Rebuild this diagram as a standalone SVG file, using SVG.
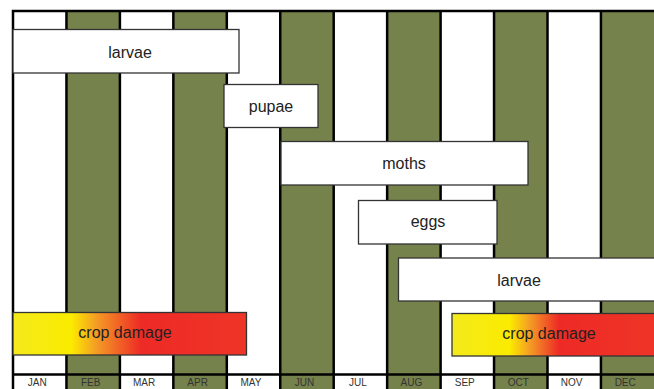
<svg xmlns="http://www.w3.org/2000/svg" width="654" height="389" viewBox="0 0 654 389">
<style>
.w{fill:#ffffff}
.g{fill:#76824C}
.sep{stroke:#000;stroke-width:2.5;fill:none}
.box{fill:#fff;stroke:#333;stroke-width:1.3}
.cd{stroke:#333;stroke-width:1.3}
.lbl{font-family:"Liberation Sans",Arial,sans-serif;font-size:16px;fill:#222;text-anchor:middle;dominant-baseline:central}
.ax{font-family:"Liberation Sans Narrow","Liberation Sans",Arial,sans-serif;font-size:10px;fill:#333;text-anchor:middle;dominant-baseline:central}
</style>
<defs>
<linearGradient id="grad1" x1="0" y1="0" x2="1" y2="0">
<stop offset="0" stop-color="#F4EA1C"/>
<stop offset="0.25" stop-color="#FBEB00"/>
<stop offset="0.36" stop-color="#F49A25"/>
<stop offset="0.55" stop-color="#EE2A26"/>
<stop offset="1" stop-color="#EE3527"/>
</linearGradient>
<linearGradient id="grad2" x1="0" y1="0" x2="1" y2="0">
<stop offset="0" stop-color="#F4EA1C"/>
<stop offset="0.28" stop-color="#FBEB00"/>
<stop offset="0.38" stop-color="#F49A25"/>
<stop offset="0.52" stop-color="#EE2A26"/>
<stop offset="1" stop-color="#EE3527"/>
</linearGradient>
</defs>
<rect x="0" y="0" width="654" height="389" fill="#fff"/>
<g id="columns">
<rect class="w" x="13" y="11" width="53.45" height="378"/>
<rect class="g" x="66.45" y="11" width="53.45" height="378"/>
<rect class="w" x="119.9" y="11" width="53.45" height="378"/>
<rect class="g" x="173.35" y="11" width="53.45" height="378"/>
<rect class="w" x="226.8" y="11" width="53.45" height="378"/>
<rect class="g" x="280.25" y="11" width="53.45" height="378"/>
<rect class="w" x="333.7" y="11" width="53.45" height="378"/>
<rect class="g" x="387.15" y="11" width="53.45" height="378"/>
<rect class="w" x="440.6" y="11" width="53.45" height="378"/>
<rect class="g" x="494.05" y="11" width="53.45" height="378"/>
<rect class="w" x="547.5" y="11" width="53.45" height="378"/>
<rect class="g" x="600.95" y="11" width="53.45" height="378"/>
<path class="sep" d="M11.75 11H654 M11.75 374.5H654 M13 10V389 M66.45 11V389 M119.9 11V389 M173.35 11V389 M226.8 11V389 M280.25 11V389 M333.7 11V389 M387.15 11V389 M440.6 11V389 M494.05 11V389 M547.5 11V389 M600.95 11V389"/>
<text class="ax" x="37.2" y="382">JAN</text>
<text class="ax" x="90.7" y="382">FEB</text>
<text class="ax" x="144.1" y="382">MAR</text>
<text class="ax" x="197.6" y="382">APR</text>
<text class="ax" x="251" y="382">MAY</text>
<text class="ax" x="304.5" y="382">JUN</text>
<text class="ax" x="357.9" y="382">JUL</text>
<text class="ax" x="411.4" y="382">AUG</text>
<text class="ax" x="464.8" y="382">SEP</text>
<text class="ax" x="518.3" y="382">OCT</text>
<text class="ax" x="571.7" y="382">NOV</text>
<text class="ax" x="625.2" y="382">DEC</text>
</g>
<g id="larvae1">
<rect class="box" x="13" y="29.5" width="226" height="43.5"/>
<text class="lbl" x="130" y="52">larvae</text>
</g>
<g id="pupae">
<rect class="box" x="224" y="84.5" width="94" height="43"/>
<text class="lbl" x="271" y="106">pupae</text>
</g>
<g id="moths">
<rect class="box" x="281" y="141.5" width="247" height="43.5"/>
<text class="lbl" x="404" y="163.5">moths</text>
</g>
<g id="eggs">
<rect class="box" x="358.5" y="200.5" width="138.5" height="43.5"/>
<text class="lbl" x="428" y="221.5">eggs</text>
</g>
<g id="larvae2">
<rect class="box" x="398.5" y="258" width="260" height="43"/>
<text class="lbl" x="519" y="280">larvae</text>
</g>
<g id="cropdamage1">
<rect class="cd" x="13" y="312.5" width="233.5" height="42.5" fill="url(#grad1)"/>
<text class="lbl" x="125" y="332">crop damage</text>
</g>
<g id="cropdamage2">
<rect class="cd" x="452" y="313.5" width="206" height="42.5" fill="url(#grad2)"/>
<text class="lbl" x="549" y="333">crop damage</text>
</g>
<g id="connectors"></g>
</svg>
